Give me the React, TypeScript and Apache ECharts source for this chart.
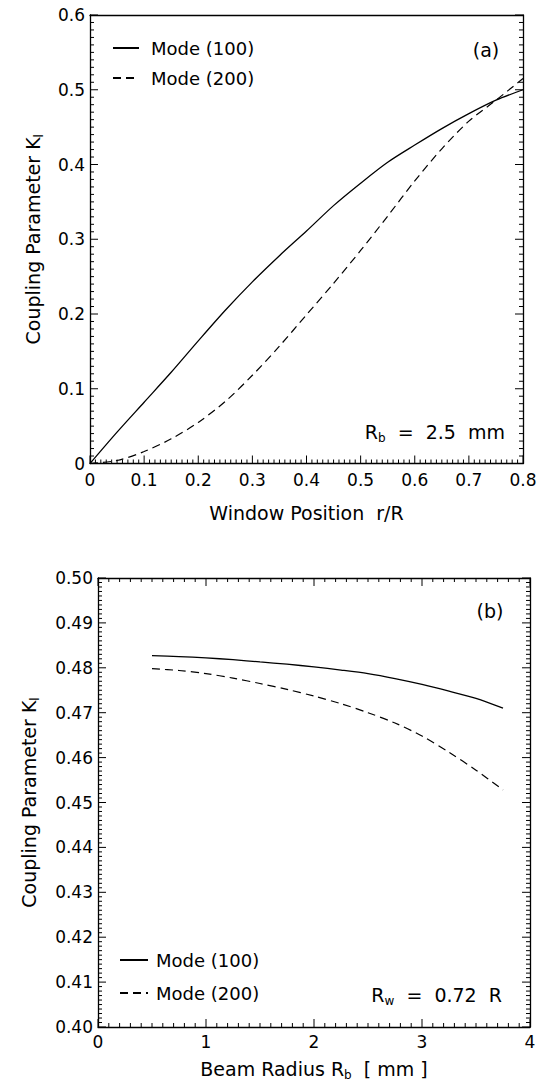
import React, { useEffect, useRef } from "react";
import * as echarts from "echarts";

// ---------- Data ----------
// (a) Coupling parameter vs window position r/R  (R_b = 2.5 mm)
const rA = [0, 0.05, 0.1, 0.15, 0.2, 0.25, 0.3, 0.35, 0.4, 0.45, 0.5, 0.55, 0.6, 0.65, 0.7, 0.75, 0.8];
const mode100A = [0, 0.042, 0.082, 0.122, 0.164, 0.205, 0.243, 0.278, 0.311, 0.345, 0.375, 0.403, 0.426, 0.448, 0.468, 0.486, 0.5];
const mode200A = [0, 0.004, 0.016, 0.033, 0.055, 0.083, 0.118, 0.157, 0.199, 0.241, 0.285, 0.331, 0.378, 0.421, 0.458, 0.486, 0.515];

// (b) Coupling parameter vs beam radius R_b [mm]  (R_w = 0.72 R)
const rbB = [0.5, 0.75, 1.0, 1.25, 1.5, 1.75, 2.0, 2.25, 2.5, 2.75, 3.0, 3.25, 3.5, 3.75];
const mode100B = [0.4827, 0.4825, 0.4822, 0.4818, 0.4813, 0.4808, 0.4802, 0.4795, 0.4787, 0.4776, 0.4763, 0.4748, 0.4732, 0.471];
const mode200B = [0.4798, 0.4794, 0.4787, 0.4777, 0.4765, 0.4752, 0.4737, 0.472, 0.47, 0.4677, 0.4648, 0.4612, 0.4572, 0.4528];

// Tick labels
const xLabelsA = ["0", "0.1", "0.2", "0.3", "0.4", "0.5", "0.6", "0.7", "0.8"];
const yLabelsA = ["0", "0.1", "0.2", "0.3", "0.4", "0.5", "0.6"];
const xLabelsB = ["0", "1", "2", "3", "4"];
const yLabelsB = ["0.40", "0.41", "0.42", "0.43", "0.44", "0.45", "0.46", "0.47", "0.48", "0.49", "0.50"];

const seriesNames = ["Mode (100)", "Mode (200)"];
const FONT = '"DejaVu Sans", sans-serif';

function pairs(xs: number[], ys: number[]) {
  return xs.map((x, i) => [x, ys[i]]);
}

// tick positions: [value, isMajor]
function tickList(min: number, max: number, minorStep: number, perMajor: number) {
  const n = Math.round((max - min) / minorStep);
  const out: number[][] = [];
  for (let i = 0; i <= n; i++) {
    const v = Math.round((min + i * minorStep) * 1e6) / 1e6;
    out.push([v, i % perMajor === 0 ? 1 : 0]);
  }
  return out;
}

const subRich = {
  s: { fontSize: 12, lineHeight: 12, verticalAlign: "bottom", fontFamily: FONT, color: "#000" },
};

const axisLineOn = { show: true, onZero: false, lineStyle: { color: "#000", width: 1.3 } };
const labelStyle = { color: "#000", fontSize: 17, fontFamily: FONT };

function plainAxis(extra: any) {
  return {
    type: "value",
    axisLine: axisLineOn,
    axisTick: { show: false },
    minorTick: { show: false },
    splitLine: { show: false },
    minorSplitLine: { show: false },
    ...extra,
  };
}

// inward ticks drawn through the axes' own scales (api.coord)
function tickSeries(
  name: string,
  xIdx: number,
  yIdx: number,
  dim: "x" | "y",
  ticks: number[][],
  other: [number, number],
  sides: ("low" | "high")[],
  majorLen: number,
  minorLen: number
) {
  return {
    name,
    type: "custom",
    xAxisIndex: xIdx,
    yAxisIndex: yIdx,
    silent: true,
    clip: false,
    z: 5,
    data: ticks,
    renderItem: (params: any, api: any) => {
      const v = api.value(0);
      const len = api.value(1) === 1 ? majorLen : minorLen;
      const children: any[] = [];
      sides.forEach((side) => {
        const o = side === "low" ? other[0] : other[1];
        if (dim === "x") {
          const p = api.coord([v, o]);
          const d = side === "low" ? -len : len;
          children.push({
            type: "line",
            shape: { x1: p[0], y1: p[1], x2: p[0], y2: p[1] + d },
            style: { stroke: "#000", lineWidth: 1 },
          });
        } else {
          const p = api.coord([o, v]);
          const d = side === "low" ? len : -len;
          children.push({
            type: "line",
            shape: { x1: p[0], y1: p[1], x2: p[0] + d, y2: p[1] },
            style: { stroke: "#000", lineWidth: 1 },
          });
        }
      });
      return { type: "group", children };
    },
  };
}

export default function App() {
  const ref = useRef<HTMLDivElement>(null);

  useEffect(() => {
    document.body.style.margin = "0";
    if (!ref.current) return;
    const chart = echarts.init(ref.current, null, { renderer: "svg" });

    const legendCommon = {
      orient: "vertical",
      itemHeight: 14,
      selectedMode: false,
      data: seriesNames,
      itemStyle: { opacity: 0 },
    };

    const rangeXA = { min: 0, max: 0.8, interval: 0.1 };
    const rangeYA = { min: 0, max: 0.6, interval: 0.1 };
    const rangeXB = { min: 0, max: 4, interval: 1 };
    const rangeYB = { min: 0.4, max: 0.5, interval: 0.01 };

    const option: any = {
      animation: false,
      backgroundColor: "#fff",
      grid: [
        { left: 90, top: 15, width: 433, height: 448.5 },
        { left: 98, top: 578, width: 432, height: 449 },
      ],
      legend: [
        { ...legendCommon, left: 107, top: 34, itemWidth: 26, itemGap: 12,
          textStyle: { fontSize: 18, color: "#000", fontFamily: FONT, padding: [0, 0, 0, 7] } },
        { ...legendCommon, left: 114, top: 946, itemWidth: 28, itemGap: 15,
          textStyle: { fontSize: 18, color: "#000", fontFamily: FONT, padding: [0, 0, 0, 3] } },
      ],
      xAxis: [
        plainAxis({
          gridIndex: 0, position: "bottom", ...rangeXA,
          axisLabel: { ...labelStyle, margin: 8, formatter: (v: number) => xLabelsA[Math.round(v / 0.1)] ?? "" },
          name: "Window Position  r/R", nameLocation: "middle", nameGap: 40,
          nameTextStyle: { fontSize: 19, color: "#000", fontFamily: FONT },
        }),
        plainAxis({ gridIndex: 0, position: "top", ...rangeXA, axisLabel: { show: false } }),
        plainAxis({
          gridIndex: 1, position: "bottom", ...rangeXB,
          axisLabel: { ...labelStyle, margin: 6, formatter: (v: number) => xLabelsB[Math.round(v)] ?? "" },
          name: "Beam Radius R{s|b}  [ mm ]", nameLocation: "middle", nameGap: 30,
          nameTextStyle: { fontSize: 19, color: "#000", fontFamily: FONT, lineHeight: 24, rich: subRich },
        }),
        plainAxis({ gridIndex: 1, position: "top", ...rangeXB, axisLabel: { show: false } }),
      ],
      yAxis: [
        plainAxis({
          gridIndex: 0, position: "left", ...rangeYA,
          axisLabel: { ...labelStyle, margin: 5, formatter: (v: number) => yLabelsA[Math.round(v / 0.1)] ?? "" },
          name: "Coupling Parameter K{s|l}", nameLocation: "middle", nameRotate: 90, nameGap: 45,
          nameTextStyle: { fontSize: 19, color: "#000", fontFamily: FONT, lineHeight: 24, rich: subRich },
        }),
        plainAxis({ gridIndex: 0, position: "right", ...rangeYA, axisLabel: { show: false } }),
        plainAxis({
          gridIndex: 1, position: "left", ...rangeYB,
          axisLabel: { ...labelStyle, margin: 5, formatter: (v: number) => yLabelsB[Math.round((v - 0.4) / 0.01)] ?? "" },
          name: "Coupling Parameter K{s|l}", nameLocation: "middle", nameRotate: 90, nameGap: 57,
          nameTextStyle: { fontSize: 19, color: "#000", fontFamily: FONT, lineHeight: 24, rich: subRich },
        }),
        plainAxis({ gridIndex: 1, position: "right", ...rangeYB, axisLabel: { show: false } }),
      ],
      series: [
        { name: seriesNames[0], type: "line", xAxisIndex: 0, yAxisIndex: 0, symbol: "none", smooth: 0.3,
          data: pairs(rA, mode100A), lineStyle: { color: "#000", width: 1.3 }, itemStyle: { color: "#000" } },
        { name: seriesNames[1], type: "line", xAxisIndex: 0, yAxisIndex: 0, symbol: "none", smooth: 0.3,
          data: pairs(rA, mode200A), lineStyle: { color: "#000", width: 1.2, type: [8, 5] }, itemStyle: { color: "#000" } },
        { name: seriesNames[0], type: "line", xAxisIndex: 2, yAxisIndex: 2, symbol: "none", smooth: 0.3,
          data: pairs(rbB, mode100B), lineStyle: { color: "#000", width: 1.3 }, itemStyle: { color: "#000" } },
        { name: seriesNames[1], type: "line", xAxisIndex: 2, yAxisIndex: 2, symbol: "none", smooth: 0.3,
          data: pairs(rbB, mode200B), lineStyle: { color: "#000", width: 1.2, type: [8, 5] }, itemStyle: { color: "#000" } },
        // axis ticks (inward)
        tickSeries("ticksXA", 0, 0, "x", tickList(0, 0.8, 0.01, 10), [0, 0.6], ["low"], 8, 4),
        tickSeries("ticksYA", 0, 0, "y", tickList(0, 0.6, 0.01, 10), [0, 0.8], ["low", "high"], 8, 4),
        tickSeries("ticksXB", 2, 2, "x", tickList(0, 4, 0.1, 10), [0.4, 0.5], ["low", "high"], 8, 4),
        tickSeries("ticksYB", 2, 2, "y", tickList(0.4, 0.5, 0.001, 10), [0, 4], ["low", "high"], 8, 4),
      ],
      graphic: [
        {
          type: "text", x: 486, y: 50,
          style: { text: "(a)", fontSize: 19, fontFamily: FONT, fill: "#000", align: "center", verticalAlign: "middle" },
        },
        {
          type: "text", x: 505, y: 432,
          style: { text: "R{s|b}  =  2.5  mm", fontSize: 19, lineHeight: 24, fontFamily: FONT, fill: "#000",
            align: "right", verticalAlign: "middle", rich: subRich },
        },
        {
          type: "text", x: 490, y: 611,
          style: { text: "(b)", fontSize: 19, fontFamily: FONT, fill: "#000", align: "center", verticalAlign: "middle" },
        },
        {
          type: "text", x: 502, y: 995,
          style: { text: "R{s|w}  =  0.72  R", fontSize: 19, lineHeight: 24, fontFamily: FONT, fill: "#000",
            align: "right", verticalAlign: "middle", rich: subRich },
        },
      ],
    };

    chart.setOption(option);
    return () => {
      chart.dispose();
    };
  }, []);

  return <div ref={ref} style={{ width: 541, height: 1082 }} />;
}
